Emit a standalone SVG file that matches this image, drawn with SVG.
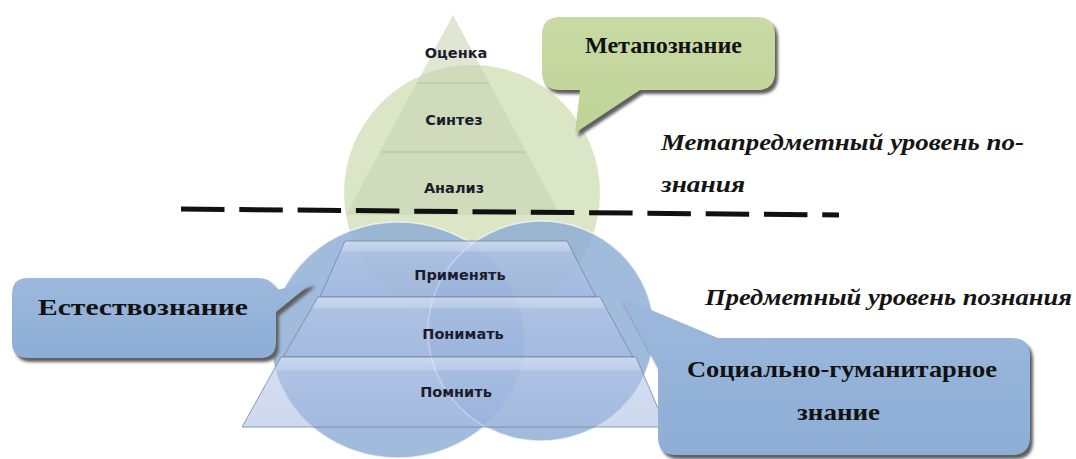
<svg xmlns="http://www.w3.org/2000/svg" width="1076" height="459" viewBox="0 0 1076 459">
  <defs>
    <style>
      .lvl { font-family: "DejaVu Sans", Verdana, sans-serif; font-weight: bold; font-size: 14.5px; fill: #1c1c2c; text-anchor: middle; }
      .box { font-family: "Liberation Serif", "Times New Roman", serif; font-weight: bold; font-size: 24px; fill: #111; }
      .note { font-family: "Liberation Serif", "Times New Roman", serif; font-style: italic; font-weight: bold; font-size: 24px; fill: #151515; }
      .tri-line { stroke: #b3bf9f; stroke-width: 1.2; fill: none; }
      .ring { stroke: #ffffff; stroke-opacity: 0.65; stroke-width: 1.6; }
      .trap { stroke: #7585a6; stroke-width: 0.8; }
      .shadow { fill: #5e5e5e; filter: url(#soft); }
    </style>
    <filter id="soft" x="-10%" y="-10%" width="120%" height="130%">
      <feGaussianBlur stdDeviation="1.6"/>
    </filter>
    <linearGradient id="trapFill" x1="0" y1="0" x2="0" y2="1">
      <stop offset="0" stop-color="#d6e0f3" stop-opacity="0.8"/>
      <stop offset="0.18" stop-color="#cad7ef" stop-opacity="0.7"/>
      <stop offset="0.2" stop-color="#b6c7e7" stop-opacity="0.6"/>
      <stop offset="1" stop-color="#a6bae1" stop-opacity="0.55"/>
    </linearGradient>
    <linearGradient id="blueBox" x1="0" y1="0" x2="0" y2="1">
      <stop offset="0" stop-color="#9cb8dc"/>
      <stop offset="1" stop-color="#8eaed6"/>
    </linearGradient>
    <linearGradient id="greenBox" x1="0" y1="0" x2="0" y2="1">
      <stop offset="0" stop-color="#c9daa5"/>
      <stop offset="1" stop-color="#bfd396"/>
    </linearGradient>
  </defs>

  <rect width="1076" height="459" fill="#ffffff"/>

  <!-- upper (meta) level: green circle with Bloom triangle -->
  <g id="meta-circle">
    <circle cx="472" cy="193" r="128" fill="#dbe6c7"/>
  </g>
  <g id="meta-triangle">
    <polygon points="453,15 560,215 346,215" fill="#c7d2b0" fill-opacity="0.55"/>
    <line class="tri-line" x1="417" y1="83" x2="489" y2="83"/>
    <line class="tri-line" x1="381" y1="152" x2="525" y2="152"/>
    <text class="lvl" x="456" y="58">Оценка</text>
    <text class="lvl" x="454" y="125">Синтез</text>
    <text class="lvl" x="454" y="193">Анализ</text>
  </g>

  <!-- subject areas: two overlapping blue circles -->
  <g id="science-circle">
    <ellipse class="ring" cx="398" cy="340" rx="127" ry="118" fill="#8aaad5" fill-opacity="0.8"/>
  </g>
  <g id="humanities-circle">
    <ellipse class="ring" cx="541" cy="331" rx="113" ry="110" fill="#8aaad5" fill-opacity="0.8"/>
  </g>

  <!-- lower pyramid levels -->
  <g id="level-apply">
    <polygon class="trap" points="345,241 567,241 596,297 320,297" fill="url(#trapFill)"/>
    <text class="lvl" x="460" y="280">Применять</text>
  </g>
  <g id="level-understand">
    <polygon class="trap" points="318,297 600,297 633,357 283,357" fill="url(#trapFill)"/>
    <text class="lvl" x="463" y="339">Понимать</text>
  </g>
  <g id="level-remember">
    <polygon class="trap" points="281,357 636,357 666,427 242,427" fill="url(#trapFill)"/>
    <text class="lvl" x="456" y="397">Помнить</text>
  </g>

  <!-- boundary between the two levels -->
  <g id="level-divider">
    <line x1="181" y1="209" x2="839" y2="215" stroke="#111" stroke-width="5" stroke-dasharray="43.5 14.8"/>
  </g>

  <!-- callouts -->
  <g id="callout-meta">
    <path class="shadow" transform="translate(3,4)" d="M560,17 H757 Q775,17 775,35 V72 Q775,90 757,90 H640 L575,133 L580,90 H560 Q542,90 542,72 V35 Q542,17 560,17 Z"/>
    <path d="M560,17 H757 Q775,17 775,35 V72 Q775,90 757,90 H640 L575,133 L580,90 H560 Q542,90 542,72 V35 Q542,17 560,17 Z" fill="url(#greenBox)"/>
    <text class="box" x="585" y="53" textLength="157" lengthAdjust="spacingAndGlyphs">Метапознание</text>
  </g>

  <g id="callout-science">
    <path class="shadow" transform="translate(3,4)" d="M28,278 H258 Q272,278 276,290 L313,282 L276,312 V342 Q276,358 260,358 H28 Q12,358 12,342 V294 Q12,278 28,278 Z"/>
    <path d="M28,278 H258 Q272,278 276,290 L313,282 L276,312 V342 Q276,358 260,358 H28 Q12,358 12,342 V294 Q12,278 28,278 Z" fill="url(#blueBox)"/>
    <text class="box" x="38" y="315" font-size="25" textLength="210" lengthAdjust="spacingAndGlyphs">Естествознание</text>
  </g>

  <g id="callout-humanities">
    <path class="shadow" transform="translate(3,4)" d="M718,338 H1012 Q1030,338 1030,356 V437 Q1030,455 1012,455 H676 Q658,455 658,437 V368 L620,297 Z"/>
    <path d="M718,338 H1012 Q1030,338 1030,356 V437 Q1030,455 1012,455 H676 Q658,455 658,437 V368 L620,297 Z" fill="url(#blueBox)"/>
    <text class="box" x="687" y="377" textLength="310" lengthAdjust="spacingAndGlyphs">Социально-гуманитарное</text>
    <text class="box" x="797" y="420" textLength="83" lengthAdjust="spacingAndGlyphs">знание</text>
  </g>

  <!-- level captions -->
  <g id="caption-meta">
    <text class="note" x="661" y="150" textLength="363" lengthAdjust="spacingAndGlyphs">Метапредметный уровень по-</text>
    <text class="note" x="661" y="192" textLength="84" lengthAdjust="spacingAndGlyphs">знания</text>
  </g>
  <g id="caption-subject">
    <text class="note" x="705" y="305" textLength="367" lengthAdjust="spacingAndGlyphs">Предметный уровень познания</text>
  </g>
</svg>
